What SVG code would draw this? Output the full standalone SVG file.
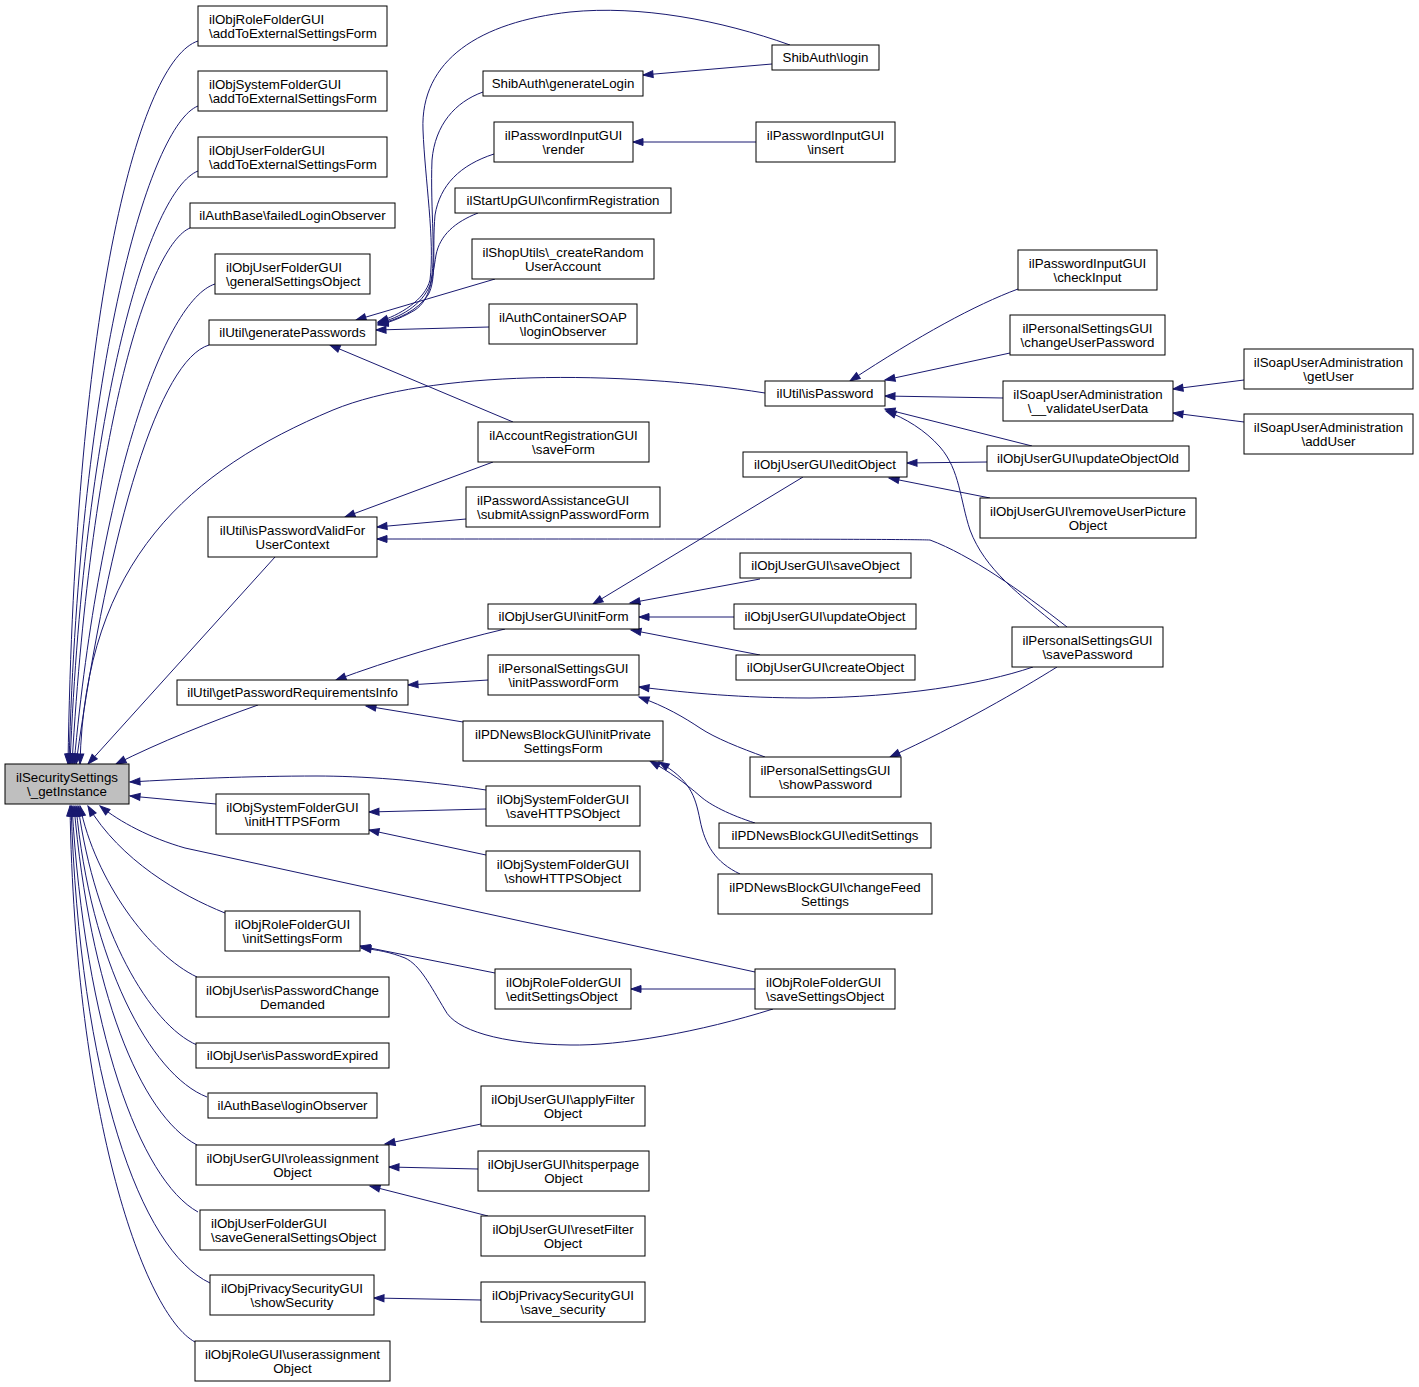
<svg xmlns="http://www.w3.org/2000/svg" width="1419" height="1387" viewBox="0 0 1419 1387">
<style>
.n rect{fill:#fff;stroke:#000;stroke-width:1}
.n.g rect{fill:#bfbfbf}
text{font-family:"Liberation Sans",Arial,Helvetica,sans-serif;font-size:13.3px;fill:#000;text-anchor:middle}
text.l{text-anchor:start}
#edges path{fill:none;stroke:#191970;stroke-width:1;marker-end:url(#a)}
</style>
<defs>
<marker id="a" markerUnits="userSpaceOnUse" markerWidth="12" markerHeight="9" viewBox="0 0 12 9" refX="11" refY="4.5" orient="auto" overflow="visible">
<path d="M1,1 L11,4.5 L1,8 z" fill="#191970" stroke="#191970"/>
</marker>
</defs>
<rect width="1419" height="1387" fill="#fff"/>
<g id="edges">
<path d="M198,41 C140,60 75,300 68,764"/>
<path d="M198,106 C150,125 80,360 69,764"/>
<path d="M198,171 C150,190 85,400 70,764"/>
<path d="M190,228 C150,245 92,420 72,764"/>
<path d="M215,284 C165,300 100,480 74,764"/>
<path d="M209,345 C160,360 110,520 76,764"/>
<path d="M765,393 C620,370 430,370 333,410 C190,470 85,560 80,764"/>
<path d="M275,557 L88,764"/>
<path d="M258,705 C210,722 160,742 116,764"/>
<path d="M486,790 C420,780 360,776 317,776 C250,776 180,779 130,782"/>
<path d="M216,804 L130,796"/>
<path d="M755,972 L185,848 C150,838 120,822 100,806"/>
<path d="M225,913 C180,895 120,860 88,806"/>
<path d="M197,977 C150,955 95,880 80,806"/>
<path d="M197,1045 C150,1025 95,930 78,806"/>
<path d="M207,1097 C150,1075 90,960 76,806"/>
<path d="M197,1145 C140,1115 90,990 74,806"/>
<path d="M198,1212 C140,1180 85,1030 72,806"/>
<path d="M210,1283 C140,1250 80,1080 71,806"/>
<path d="M195,1342 C145,1315 75,1120 70,806"/>
<path d="M790,45 C720,20 640,5 570,12 C480,22 420,60 423,130 C425,180 435,240 430,280 C425,300 400,315 378,322"/>
<path d="M483,92 C455,102 435,125 432,160 C430,210 437,260 430,285 C422,305 400,318 378,323"/>
<path d="M494,154 C460,165 440,185 435,215 C432,250 437,280 428,295 C418,310 398,320 378,324"/>
<path d="M478,213 C455,222 440,235 436,255 C432,280 430,300 415,310 C405,316 392,322 378,325"/>
<path d="M495,279 L356,320"/>
<path d="M489,327 L376,330"/>
<path d="M513,422 L330,345"/>
<path d="M772,64 L643,75"/>
<path d="M756,142 L633,142"/>
<path d="M493,462 L345,517"/>
<path d="M466,519 L377,527"/>
<path d="M1067,627 C1020,590 970,555 930,540 C900,539 700,539 377,539"/>
<path d="M1018,289 C975,305 920,335 850,381"/>
<path d="M1010,353 L885,380"/>
<path d="M1003,398 L885,396"/>
<path d="M1032,446 L885,409"/>
<path d="M1059,627 C1020,595 985,570 970,530 C960,500 960,470 940,447 C925,430 905,418 886,411"/>
<path d="M1244,380 L1173,389"/>
<path d="M1244,422 L1173,413"/>
<path d="M987,462 L907,463"/>
<path d="M990,498 L889,478"/>
<path d="M803,477 L593,604"/>
<path d="M760,579 L630,603"/>
<path d="M734,617 L639,617"/>
<path d="M760,655 L631,630"/>
<path d="M505,629 C450,642 390,660 336,680"/>
<path d="M488,680 L408,685"/>
<path d="M463,722 L366,706"/>
<path d="M1033,667 C980,685 900,697 810,698 C740,698 690,693 639,687"/>
<path d="M765,757 C740,748 715,738 700,728 C685,718 665,706 639,697"/>
<path d="M1057,667 C1020,690 960,725 890,757"/>
<path d="M755,823 C730,815 710,805 700,796 C685,783 670,772 650,761"/>
<path d="M740,874 C715,862 705,845 700,820 C695,795 690,780 659,762"/>
<path d="M486,809 L369,812"/>
<path d="M486,855 L369,830"/>
<path d="M495,973 L360,946"/>
<path d="M773,1009 C700,1032 620,1046 570,1045 C500,1044 455,1030 445,1010 C430,985 420,965 405,958 C390,952 378,950 361,948"/>
<path d="M755,989 L631,989"/>
<path d="M481,1124 L385,1144"/>
<path d="M478,1169 L389,1167"/>
<path d="M488,1216 L370,1186"/>
<path d="M481,1300 L374,1298"/>
</g>
<g id="n0" class="n g"><rect x="5" y="764" width="124" height="40"/><text x="67" y="781.5">ilSecuritySettings</text><text x="67" y="795.5">\_getInstance</text></g>
<g id="n1" class="n"><rect x="198" y="6" width="189" height="40"/><text class="l" x="209" y="23.5">ilObjRoleFolderGUI</text><text class="l" x="209" y="37.5">\addToExternalSettingsForm</text></g>
<g id="n2" class="n"><rect x="198" y="71" width="189" height="40"/><text class="l" x="209" y="88.5">ilObjSystemFolderGUI</text><text class="l" x="209" y="102.5">\addToExternalSettingsForm</text></g>
<g id="n3" class="n"><rect x="198" y="137" width="189" height="40"/><text class="l" x="209" y="154.5">ilObjUserFolderGUI</text><text class="l" x="209" y="168.5">\addToExternalSettingsForm</text></g>
<g id="n4" class="n"><rect x="190" y="203" width="205" height="25"/><text x="292.5" y="220">ilAuthBase\failedLoginObserver</text></g>
<g id="n5" class="n"><rect x="215" y="254" width="155" height="40"/><text class="l" x="226" y="271.5">ilObjUserFolderGUI</text><text class="l" x="226" y="285.5">\generalSettingsObject</text></g>
<g id="n6" class="n"><rect x="209" y="320" width="167" height="25"/><text x="292.5" y="337">ilUtil\generatePasswords</text></g>
<g id="n7" class="n"><rect x="483" y="71" width="160" height="25"/><text x="563" y="88">ShibAuth\generateLogin</text></g>
<g id="n8" class="n"><rect x="772" y="45" width="107" height="25"/><text x="825.5" y="62">ShibAuth\login</text></g>
<g id="n9" class="n"><rect x="494" y="122" width="139" height="40"/><text x="563.5" y="139.5">ilPasswordInputGUI</text><text x="563.5" y="153.5">\render</text></g>
<g id="n10" class="n"><rect x="756" y="122" width="139" height="40"/><text x="825.5" y="139.5">ilPasswordInputGUI</text><text x="825.5" y="153.5">\insert</text></g>
<g id="n11" class="n"><rect x="455" y="188" width="216" height="25"/><text x="563" y="205">ilStartUpGUI\confirmRegistration</text></g>
<g id="n12" class="n"><rect x="472" y="239" width="182" height="40"/><text x="563" y="256.5">ilShopUtils\_createRandom</text><text x="563" y="270.5">UserAccount</text></g>
<g id="n13" class="n"><rect x="489" y="304" width="148" height="40"/><text x="563" y="321.5">ilAuthContainerSOAP</text><text x="563" y="335.5">\loginObserver</text></g>
<g id="n14" class="n"><rect x="1018" y="250" width="139" height="40"/><text x="1087.5" y="267.5">ilPasswordInputGUI</text><text x="1087.5" y="281.5">\checkInput</text></g>
<g id="n15" class="n"><rect x="1010" y="315" width="155" height="40"/><text x="1087.5" y="332.5">ilPersonalSettingsGUI</text><text x="1087.5" y="346.5">\changeUserPassword</text></g>
<g id="n16" class="n"><rect x="1003" y="381" width="170" height="40"/><text x="1088" y="398.5">ilSoapUserAdministration</text><text x="1088" y="412.5">\__validateUserData</text></g>
<g id="n17" class="n"><rect x="1244" y="349" width="169" height="40"/><text x="1328.5" y="366.5">ilSoapUserAdministration</text><text x="1328.5" y="380.5">\getUser</text></g>
<g id="n18" class="n"><rect x="1244" y="414" width="169" height="40"/><text x="1328.5" y="431.5">ilSoapUserAdministration</text><text x="1328.5" y="445.5">\addUser</text></g>
<g id="n19" class="n"><rect x="987" y="446" width="202" height="25"/><text x="1088" y="463">ilObjUserGUI\updateObjectOld</text></g>
<g id="n20" class="n"><rect x="980" y="498" width="216" height="40"/><text x="1088" y="515.5">ilObjUserGUI\removeUserPicture</text><text x="1088" y="529.5">Object</text></g>
<g id="n21" class="n"><rect x="765" y="381" width="120" height="25"/><text x="825" y="398">ilUtil\isPassword</text></g>
<g id="n22" class="n"><rect x="478" y="422" width="171" height="40"/><text x="563.5" y="439.5">ilAccountRegistrationGUI</text><text x="563.5" y="453.5">\saveForm</text></g>
<g id="n23" class="n"><rect x="743" y="452" width="164" height="25"/><text x="825" y="469">ilObjUserGUI\editObject</text></g>
<g id="n24" class="n"><rect x="466" y="487" width="194" height="40"/><text class="l" x="477" y="504.5">ilPasswordAssistanceGUI</text><text class="l" x="477" y="518.5">\submitAssignPasswordForm</text></g>
<g id="n25" class="n"><rect x="208" y="517" width="169" height="40"/><text x="292.5" y="534.5">ilUtil\isPasswordValidFor</text><text x="292.5" y="548.5">UserContext</text></g>
<g id="n26" class="n"><rect x="740" y="553" width="171" height="25"/><text x="825.5" y="570">ilObjUserGUI\saveObject</text></g>
<g id="n27" class="n"><rect x="488" y="604" width="151" height="25"/><text x="563.5" y="621">ilObjUserGUI\initForm</text></g>
<g id="n28" class="n"><rect x="734" y="604" width="182" height="25"/><text x="825" y="621">ilObjUserGUI\updateObject</text></g>
<g id="n29" class="n"><rect x="736" y="655" width="179" height="25"/><text x="825.5" y="672">ilObjUserGUI\createObject</text></g>
<g id="n30" class="n"><rect x="488" y="655" width="151" height="40"/><text x="563.5" y="672.5">ilPersonalSettingsGUI</text><text x="563.5" y="686.5">\initPasswordForm</text></g>
<g id="n31" class="n"><rect x="1012" y="627" width="151" height="40"/><text x="1087.5" y="644.5">ilPersonalSettingsGUI</text><text x="1087.5" y="658.5">\savePassword</text></g>
<g id="n32" class="n"><rect x="177" y="680" width="231" height="25"/><text x="292.5" y="697">ilUtil\getPasswordRequirementsInfo</text></g>
<g id="n33" class="n"><rect x="463" y="721" width="200" height="40"/><text x="563" y="738.5">ilPDNewsBlockGUI\initPrivate</text><text x="563" y="752.5">SettingsForm</text></g>
<g id="n34" class="n"><rect x="750" y="757" width="151" height="40"/><text x="825.5" y="774.5">ilPersonalSettingsGUI</text><text x="825.5" y="788.5">\showPassword</text></g>
<g id="n35" class="n"><rect x="216" y="794" width="153" height="40"/><text x="292.5" y="811.5">ilObjSystemFolderGUI</text><text x="292.5" y="825.5">\initHTTPSForm</text></g>
<g id="n36" class="n"><rect x="486" y="786" width="154" height="40"/><text x="563" y="803.5">ilObjSystemFolderGUI</text><text x="563" y="817.5">\saveHTTPSObject</text></g>
<g id="n37" class="n"><rect x="719" y="823" width="212" height="25"/><text x="825" y="840">ilPDNewsBlockGUI\editSettings</text></g>
<g id="n38" class="n"><rect x="486" y="851" width="154" height="40"/><text x="563" y="868.5">ilObjSystemFolderGUI</text><text x="563" y="882.5">\showHTTPSObject</text></g>
<g id="n39" class="n"><rect x="718" y="874" width="214" height="40"/><text x="825" y="891.5">ilPDNewsBlockGUI\changeFeed</text><text x="825" y="905.5">Settings</text></g>
<g id="n40" class="n"><rect x="225" y="911" width="135" height="40"/><text x="292.5" y="928.5">ilObjRoleFolderGUI</text><text x="292.5" y="942.5">\initSettingsForm</text></g>
<g id="n41" class="n"><rect x="495" y="969" width="136" height="40"/><text class="l" x="506" y="986.5">ilObjRoleFolderGUI</text><text class="l" x="506" y="1000.5">\editSettingsObject</text></g>
<g id="n42" class="n"><rect x="755" y="969" width="140" height="40"/><text class="l" x="766" y="986.5">ilObjRoleFolderGUI</text><text class="l" x="766" y="1000.5">\saveSettingsObject</text></g>
<g id="n43" class="n"><rect x="196" y="977" width="193" height="40"/><text x="292.5" y="994.5">ilObjUser\isPasswordChange</text><text x="292.5" y="1008.5">Demanded</text></g>
<g id="n44" class="n"><rect x="196" y="1043" width="193" height="25"/><text x="292.5" y="1060">ilObjUser\isPasswordExpired</text></g>
<g id="n45" class="n"><rect x="208" y="1093" width="169" height="25"/><text x="292.5" y="1110">ilAuthBase\loginObserver</text></g>
<g id="n46" class="n"><rect x="196" y="1145" width="193" height="40"/><text x="292.5" y="1162.5">ilObjUserGUI\roleassignment</text><text x="292.5" y="1176.5">Object</text></g>
<g id="n47" class="n"><rect x="200" y="1210" width="185" height="40"/><text class="l" x="211" y="1227.5">ilObjUserFolderGUI</text><text class="l" x="211" y="1241.5">\saveGeneralSettingsObject</text></g>
<g id="n48" class="n"><rect x="210" y="1275" width="164" height="40"/><text x="292" y="1292.5">ilObjPrivacySecurityGUI</text><text x="292" y="1306.5">\showSecurity</text></g>
<g id="n49" class="n"><rect x="195" y="1341" width="195" height="40"/><text x="292.5" y="1358.5">ilObjRoleGUI\userassignment</text><text x="292.5" y="1372.5">Object</text></g>
<g id="n50" class="n"><rect x="481" y="1086" width="164" height="40"/><text x="563" y="1103.5">ilObjUserGUI\applyFilter</text><text x="563" y="1117.5">Object</text></g>
<g id="n51" class="n"><rect x="478" y="1151" width="171" height="40"/><text x="563.5" y="1168.5">ilObjUserGUI\hitsperpage</text><text x="563.5" y="1182.5">Object</text></g>
<g id="n52" class="n"><rect x="481" y="1216" width="164" height="40"/><text x="563" y="1233.5">ilObjUserGUI\resetFilter</text><text x="563" y="1247.5">Object</text></g>
<g id="n53" class="n"><rect x="481" y="1282" width="164" height="40"/><text x="563" y="1299.5">ilObjPrivacySecurityGUI</text><text x="563" y="1313.5">\save_security</text></g>
</svg>
